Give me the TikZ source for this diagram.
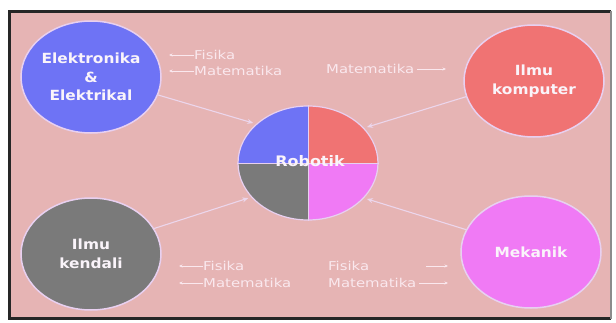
\documentclass[tikz,border=0pt]{standalone}
\usepackage{fontspec}
\usetikzlibrary{shapes.geometric,arrows.meta}
\newfontfamily\nodefont[FakeStretch=1.1]{DejaVu Sans}
\newfontfamily\lblfont[FakeStretch=1.22]{DejaVu Sans}
\definecolor{bgpink}{RGB}{230,180,180}
\definecolor{cblue}{RGB}{110,115,245}
\definecolor{cred}{RGB}{240,115,115}
\definecolor{cgray}{RGB}{122,122,122}
\definecolor{cmag}{RGB}{240,122,245}
\definecolor{edgec}{RGB}{232,208,240}
\definecolor{txtc}{RGB}{250,244,250}
\definecolor{lblc}{RGB}{250,232,238}
\definecolor{linkc}{RGB}{236,214,236}
\tikzset{
  bigcirc/.style={ellipse, minimum width=140pt, minimum height=112pt, inner sep=0pt,
    draw=edgec, line width=1.5pt, text=txtc, align=center,
    font=\nodefont\bfseries\fontsize{14}{18.5}\selectfont},
  lbl/.style={text=lblc, inner sep=0pt, font=\lblfont\fontsize{12.2}{13}\selectfont},
  link/.style={draw=linkc, line width=1.1pt, -{Stealth[length=6pt,width=5pt]}, shorten >=3pt},
  larr/.style={draw=lblc, line width=0.7pt, -{Stealth[length=3.5pt,width=3pt]}}
}
\begin{document}
\begin{tikzpicture}[x=1pt,y=1pt]
\useasboundingbox (0,0) rectangle (616,322);
\fill[white] (0,0) rectangle (616,322);
% frame
\fill[bgpink] (9.5,3.5) rectangle (611,310.5);
\draw[black!85, line width=3pt] (611,310.5) -- (9.5,310.5) -- (9.5,3.5) -- (611,3.5);
\draw[black!45, line width=1.5pt] (611,310.5) -- (611,3.5);
% outer nodes
\node[bigcirc, fill=cblue] (ee) at (91,245) {Elektronika\\\&\\Elektrikal};
\node[bigcirc, fill=cred] (ik) at (534,241) {Ilmu\\komputer};
\node[bigcirc, fill=cgray] (kd) at (91,68) {Ilmu\\kendali};
\node[bigcirc, fill=cmag] (mk) at (531,70) {Mekanik};
% Robotik quadrants
\fill[cblue] (308,159) -- (238,159) arc[start angle=180,end angle=90,x radius=70,y radius=57] -- cycle;
\fill[cred] (308,159) -- (308,216) arc[start angle=90,end angle=0,x radius=70,y radius=57] -- cycle;
\fill[cmag] (308,159) -- (378,159) arc[start angle=0,end angle=-90,x radius=70,y radius=57] -- cycle;
\fill[cgray] (308,159) -- (308,102) arc[start angle=270,end angle=180,x radius=70,y radius=57] -- cycle;
\node[ellipse, minimum width=140pt, minimum height=114pt, inner sep=0pt, draw=edgec, line width=1.2pt] (rob) at (308,159) {};
\draw[edgec, line width=1pt] (rob.north) -- (rob.south);
\draw[edgec, line width=1pt] (rob.west) -- (rob.east);
\node[text=txtc, inner sep=0pt, font=\nodefont\bfseries\fontsize{14.5}{16}\selectfont] (robt) at (310,161) {Robotik};
% connectors
\draw[link] (ee.-15) -- (rob.143);
\draw[link] (ik.193) -- (rob.32);
\draw[link] (kd.22) -- (rob.211);
\draw[link] (mk.161) -- (rob.328);
% labels top-left
\node[lbl, anchor=west] (tlf) at (194,267) {Fisika};
\node[lbl, anchor=west] (tlm) at (194,251) {Matematika};
\coordinate (tlfa) at (169,267);
\coordinate (tlma) at (169,251);
\draw[larr] (tlf.west) -- (tlfa);
\draw[larr] (tlm.west) -- (tlma);
% label top-right
\node[lbl, anchor=west] (trm) at (326,253) {Matematika};
\coordinate (trma) at (446,253);
\draw[larr] ([xshift=3pt]trm.east) -- (trma);
% labels bottom-left
\node[lbl, anchor=west] (blf) at (203,56) {Fisika};
\node[lbl, anchor=west] (blm) at (203,39) {Matematika};
\coordinate (blfa) at (179,56);
\coordinate (blma) at (179,39);
\draw[larr] (blf.west) -- (blfa);
\draw[larr] (blm.west) -- (blma);
% labels bottom-right
\node[lbl, anchor=west] (brf) at (328,56) {Fisika};
\node[lbl, anchor=west] (brm) at (328,39) {Matematika};
\coordinate (brfs) at (426,56);
\coordinate (brfa) at (448,56);
\coordinate (brma) at (448,39);
\draw[larr] (brfs) -- (brfa);
\draw[larr] ([xshift=3pt]brm.east) -- (brma);
\end{tikzpicture}
\end{document}
